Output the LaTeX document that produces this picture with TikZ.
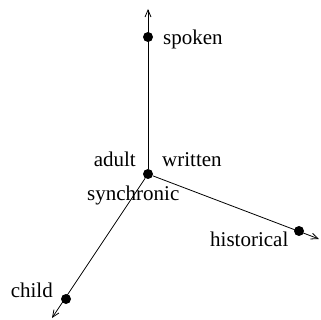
\documentclass[tikz,border=0pt]{standalone}
\usepackage{fontspec}
\setmainfont{Liberation Serif}
\usetikzlibrary{arrows.meta}
\begin{document}
\begin{tikzpicture}[x=1pt,y=-1pt,
  dot/.style={circle,fill,inner sep=0pt,minimum size=10pt},
  lab/.style={inner sep=0pt,font=\fontsize{21}{24}\selectfont},
  axis/.style={line width=0.8pt,-{Straight Barb[length=7pt,width=6pt]}}]
\useasboundingbox (0,0) rectangle (321,320);
\node[dot] (C) at (148,174) {};
\coordinate (up) at (148,9);
\coordinate (right) at (319,239);
\coordinate (down) at (52,318);
\draw[axis] (C) -- (up);
\draw[axis] (C) -- (right);
\draw[axis] (C) -- (down);
\node[dot] (spoken) at (148,37) {};
\node[dot] (historical) at (299,231) {};
\node[dot] (child) at (66,299) {};
\node[lab,anchor=base west] (tspoken) at (163,45) {spoken};
\node[lab,anchor=base east] (tadult) at (136,167) {adult};
\node[lab,anchor=base west] (twritten) at (162,167) {written};
\node[lab,anchor=base west] (tsync) at (87,201) {synchronic};
\node[lab,anchor=base west] (thist) at (210,247) {historical};
\node[lab,anchor=base east] (tchild) at (53,297) {child};
\end{tikzpicture}
\end{document}
